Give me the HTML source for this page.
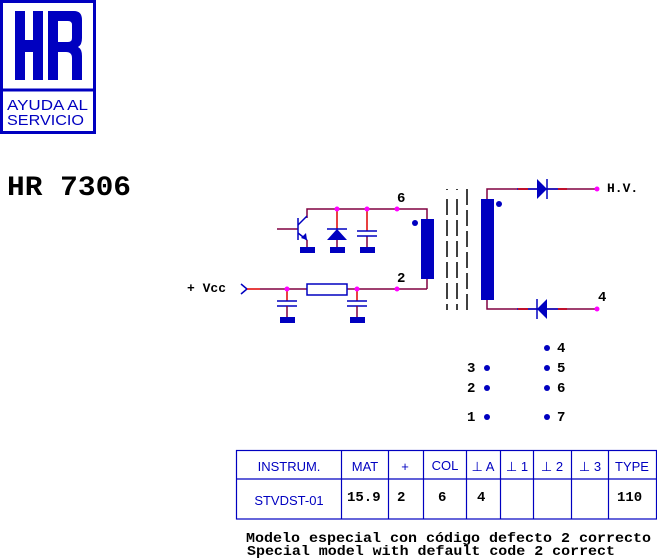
<!DOCTYPE html>
<html><head><meta charset="utf-8"><style>
html,body{margin:0;padding:0;background:#fff;}
svg{display:block;}
.m{font-family:"Liberation Mono",monospace;font-weight:bold;fill:#000;}
.s{font-family:"Liberation Sans",sans-serif;fill:#0000c0;}
</style></head><body>
<svg width="657" height="560" viewBox="0 0 657 560" xmlns="http://www.w3.org/2000/svg">
<!-- logo -->
<rect x="1.5" y="1.5" width="93" height="131" fill="none" stroke="#0000c0" stroke-width="3"/>
<line x1="1" y1="90" x2="96" y2="90" stroke="#0000c0" stroke-width="3"/>
<g fill="#0000c0">
<rect x="15" y="11" width="10" height="69"/>
<rect x="33" y="11" width="10" height="69"/>
<rect x="15" y="40" width="28" height="12"/>
<path d="M48,11 H74 Q82,11 82,20 V38 Q82,45 78,47 Q82,49 82,56 V80 H72 V58 Q72,52 66,52 H58 V80 H48 Z M58,21 V42 H68 Q72,42 72,38 V25 Q72,21 68,21 Z" fill-rule="evenodd"/>
</g>
<text x="7" y="110" class="s" font-size="15" textLength="81" lengthAdjust="spacingAndGlyphs">AYUDA AL</text>
<text x="7" y="125" class="s" font-size="15" textLength="77" lengthAdjust="spacingAndGlyphs">SERVICIO</text>
<text x="7" y="195" class="m" font-size="28" textLength="124" lengthAdjust="spacingAndGlyphs">HR 7306</text>

<g fill="none" stroke-width="1.5">
<polyline points="307,218 307,209 427,209 427,219" stroke="#800040"/>
<line x1="337" y1="209" x2="337" y2="229" stroke="#e00000"/>
<line x1="367" y1="209" x2="367" y2="231" stroke="#e00000"/>
<line x1="367" y1="236" x2="367" y2="250" stroke="#800040"/>
<line x1="337" y1="240" x2="337" y2="250" stroke="#800040"/>
<line x1="277" y1="229" x2="298" y2="229" stroke="#800040"/>
<line x1="298" y1="218" x2="298" y2="240" stroke="#0000c0"/>
<line x1="298" y1="225" x2="307" y2="216" stroke="#0000c0"/>
<line x1="298" y1="233" x2="307" y2="240" stroke="#0000c0"/>
<line x1="307" y1="240" x2="307" y2="250" stroke="#800040"/>
<line x1="357" y1="231" x2="377" y2="231" stroke="#0000c0"/>
<line x1="357" y1="236" x2="377" y2="236" stroke="#0000c0"/>
<line x1="327" y1="229" x2="347" y2="229" stroke="#0000c0"/>
<polyline points="241,284 247,289 241,294" stroke="#0000c0"/>
<line x1="247" y1="289" x2="260" y2="289" stroke="#e00000"/>
<line x1="260" y1="289" x2="307" y2="289" stroke="#800040"/>
<line x1="347" y1="289" x2="427" y2="289" stroke="#800040"/>
<line x1="427" y1="289" x2="427" y2="279" stroke="#800040"/>
<rect x="307" y="284" width="40" height="11" stroke="#0000c0"/>
<line x1="287" y1="289" x2="287" y2="301" stroke="#e00000"/>
<line x1="357" y1="289" x2="357" y2="301" stroke="#e00000"/>
<line x1="277" y1="301" x2="297" y2="301" stroke="#0000c0"/>
<line x1="277" y1="306" x2="297" y2="306" stroke="#0000c0"/>
<line x1="347" y1="301" x2="367" y2="301" stroke="#0000c0"/>
<line x1="347" y1="306" x2="367" y2="306" stroke="#0000c0"/>
<line x1="287" y1="306" x2="287" y2="319" stroke="#800040"/>
<line x1="357" y1="306" x2="357" y2="319" stroke="#800040"/>
<line x1="447" y1="189" x2="447" y2="310" stroke="#000" stroke-dasharray="1,9,16,5,16,5,16,5,16,5,16,5,16,5"/>
<line x1="457" y1="189" x2="457" y2="310" stroke="#000" stroke-dasharray="1,9,16,5,16,5,16,5,16,5,16,5,16,5"/>
<line x1="467" y1="189" x2="467" y2="310" stroke="#000" stroke-dasharray="16,5"/>
<polyline points="487,199 487,189 597,189" stroke="#800040"/>
<polyline points="487,300 487,309 597,309" stroke="#800040"/>
<line x1="517" y1="189" x2="567" y2="189" stroke="#0000c0"/>
<line x1="517" y1="309" x2="567" y2="309" stroke="#0000c0"/>
<line x1="518" y1="189" x2="528" y2="189" stroke="#e00000"/>
<line x1="558" y1="189" x2="567" y2="189" stroke="#e00000"/>
<line x1="518" y1="309" x2="528" y2="309" stroke="#e00000"/>
<line x1="558" y1="309" x2="567" y2="309" stroke="#e00000"/>
<line x1="547" y1="179" x2="547" y2="199" stroke="#0000c0"/>
<line x1="537" y1="299" x2="537" y2="319" stroke="#0000c0"/>
</g>
<g fill="#0000c0">
<polygon points="327,240 347,240 337,229"/>
<polygon points="307,240 301,238 306,233"/>
<polygon points="537,179 537,199 547,189"/>
<polygon points="547,299 547,319 537,309"/>
<rect x="300" y="247" width="15" height="6"/>
<rect x="330" y="247" width="15" height="6"/>
<rect x="360" y="247" width="15" height="6"/>
<rect x="280" y="317" width="15" height="6"/>
<rect x="350" y="317" width="15" height="6"/>
<rect x="421" y="219" width="13" height="60"/>
<rect x="481" y="199" width="13" height="101"/>
<circle cx="415" cy="223" r="3"/>
<circle cx="499" cy="204" r="3"/>
<circle cx="487" cy="368" r="3"/><circle cx="487" cy="388" r="3"/><circle cx="487" cy="417" r="3"/>
<circle cx="547" cy="348" r="3"/><circle cx="547" cy="368" r="3"/><circle cx="547" cy="388" r="3"/><circle cx="547" cy="417" r="3"/>
</g>
<g fill="#ff00ff">
<circle cx="337" cy="209" r="2.5"/><circle cx="367" cy="209" r="2.5"/><circle cx="397" cy="209" r="2.5"/>
<circle cx="287" cy="289" r="2.5"/><circle cx="357" cy="289" r="2.5"/><circle cx="397" cy="289" r="2.5"/>
<circle cx="597" cy="189" r="2.5"/><circle cx="597" cy="309" r="2.5"/>
</g>
<text x="397" y="202" class="m" font-size="14">6</text>
<text x="397" y="282" class="m" font-size="14">2</text>
<text x="187" y="292" class="m" font-size="13">+ Vcc</text>
<text x="607" y="192" class="m" font-size="13">H.V.</text>
<text x="598" y="301" class="m" font-size="14">4</text>
<text x="467" y="372" class="m" font-size="14">3</text>
<text x="467" y="392" class="m" font-size="14">2</text>
<text x="467" y="421" class="m" font-size="14">1</text>
<text x="557" y="352" class="m" font-size="14">4</text>
<text x="557" y="372" class="m" font-size="14">5</text>
<text x="557" y="392" class="m" font-size="14">6</text>
<text x="557" y="421" class="m" font-size="14">7</text>
<g stroke="#0000c0" stroke-width="1.2" fill="none">
<rect x="236.5" y="450.5" width="420" height="68.5"/>
<line x1="236" y1="479" x2="657" y2="479"/>
<line x1="341.5" y1="450" x2="341.5" y2="519"/>
<line x1="388.5" y1="450" x2="388.5" y2="519"/>
<line x1="423.5" y1="450" x2="423.5" y2="519"/>
<line x1="466.5" y1="450" x2="466.5" y2="519"/>
<line x1="500.5" y1="450" x2="500.5" y2="519"/>
<line x1="533.5" y1="450" x2="533.5" y2="519"/>
<line x1="571.5" y1="450" x2="571.5" y2="519"/>
<line x1="608.5" y1="450" x2="608.5" y2="519"/>
</g>
<g class="s" font-size="13" text-anchor="middle">
<text x="289" y="471">INSTRUM.</text>
<text x="365" y="471">MAT</text>
<text x="405" y="471">+</text>
<text x="445" y="470">COL</text>
<text x="483" y="471">⊥ A</text>
<text x="517" y="471">⊥ 1</text>
<text x="552" y="471">⊥ 2</text>
<text x="590" y="471">⊥ 3</text>
<text x="632" y="471">TYPE</text>
<text x="289" y="505">STVDST-01</text>
</g>
<g class="m" font-size="14">
<text x="347" y="501">15.9</text>
<text x="397" y="501">2</text>
<text x="438" y="501">6</text>
<text x="477" y="501">4</text>
<text x="617" y="501">110</text>
<text x="246" y="542" textLength="405" lengthAdjust="spacingAndGlyphs">Modelo especial con código defecto 2 correcto</text>
<text x="247" y="555" textLength="368" lengthAdjust="spacingAndGlyphs">Special model with default code 2 correct</text>
</g>
</svg>
</body></html>
